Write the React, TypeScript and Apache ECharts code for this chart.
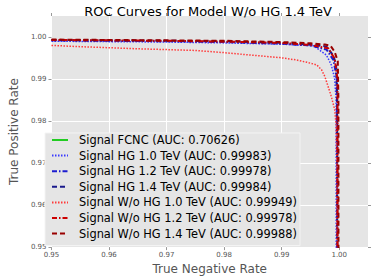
import React, { useEffect, useRef } from "react";
import * as echarts from "echarts";

const tickValues = [0.95, 0.96, 0.97, 0.98, 0.99, 1.0];
const seriesNames = [
  "Signal FCNC (AUC: 0.70626)",
  "Signal HG 1.0 TeV (AUC: 0.99983)",
  "Signal HG 1.2 TeV (AUC: 0.99978)",
  "Signal HG 1.4 TeV (AUC: 0.99984)",
  "Signal W/o HG 1.0 TeV (AUC: 0.99949)",
  "Signal W/o HG 1.2 TeV (AUC: 0.99978)",
  "Signal W/o HG 1.4 TeV (AUC: 0.99988)",
];

// FCNC curve lies entirely below the visible window
const fcncX: number[] = [];
const fcncY: number[] = [];

const hg10X = [0.95, 0.96, 0.97, 0.98, 0.99, 0.99555, 0.99778, 0.99862, 0.9992, 0.99946, 0.9995];
const hg10Y = [0.999, 0.9989, 0.9988, 0.9986, 0.9983, 0.9979, 0.9957, 0.99336, 0.9902, 0.985, 0.9];

const hg12X = [0.95, 0.96, 0.97, 0.98, 0.99, 0.995, 0.9978, 0.999, 0.9996, 0.99965];
const hg12Y = [0.9992, 0.9991, 0.999, 0.9988, 0.9984, 0.998, 0.997, 0.9945, 0.99, 0.9];

const hg14X = [0.95, 0.96, 0.97, 0.98, 0.99, 0.995, 0.997, 0.99778, 0.99891, 0.99945, 0.99963, 0.99965];
const hg14Y = [0.9993, 0.9992, 0.9991, 0.999, 0.9986, 0.9982, 0.9979, 0.9977, 0.9957, 0.9935, 0.985, 0.9];

const wo10X = [0.95, 0.955, 0.96, 0.965, 0.97, 0.975, 0.98, 0.985, 0.9897, 0.9925, 0.9944, 0.9961, 0.99694, 0.9975, 0.99807, 0.99862, 0.9992, 0.99946, 0.9996, 0.99965];
const wo10Y = [0.998, 0.9977, 0.99745, 0.9972, 0.997, 0.9968, 0.99628, 0.99565, 0.9951, 0.99455, 0.99398, 0.99336, 0.99218, 0.9906, 0.98822, 0.98585, 0.9828, 0.979, 0.97, 0.9];

const wo12X = [0.95, 0.96, 0.97, 0.98, 0.99, 0.995, 0.9981, 0.9992, 0.9997, 0.99975];
const wo12Y = [0.9993, 0.9992, 0.9991, 0.9989, 0.9986, 0.9981, 0.9973, 0.9949, 0.99, 0.9];

const wo14X = [0.95, 0.96, 0.97, 0.98, 0.99, 0.995, 0.9975, 0.9985, 0.9992, 0.99975, 0.99986, 0.99988];
const wo14Y = [0.9994, 0.9993, 0.9992, 0.9991, 0.9988, 0.9985, 0.9982, 0.9979, 0.9965, 0.9942, 0.985, 0.9];

const zip = (xs: number[], ys: number[]) => xs.map((x, i) => [x, ys[i]]);

const styles = [
  { color: "#22cc22", width: 3, type: "solid" as any },
  { color: "#3a3aff", width: 1.5, type: [1.5, 1.5] },
  { color: "#1c1cd0", width: 2, type: [5, 2, 1.5, 2] },
  { color: "#1a1a8c", width: 2, type: [5, 3] },
  { color: "#ff3a3a", width: 1.5, type: [1.5, 1.5] },
  { color: "#cc0000", width: 2, type: [5, 2, 1.5, 2] },
  { color: "#990000", width: 2, type: [5, 3] },
];

const datasets = [
  zip(fcncX, fcncY),
  zip(hg10X, hg10Y),
  zip(hg12X, hg12Y),
  zip(hg14X, hg14Y),
  zip(wo10X, wo10Y),
  zip(wo12X, wo12Y),
  zip(wo14X, wo14Y),
];

export default function App() {
  const ref = useRef<HTMLDivElement>(null);
  useEffect(() => {
    if (!ref.current) return;
    const chart = echarts.init(ref.current, undefined, { renderer: "svg" });
    const font = "DejaVu Sans";
    const baseAxis = {
      type: "value",
      min: 0.95,
      max: 1.005,
      interval: 0.01,
      axisLine: { show: false },
    };
    chart.setOption({
      animation: false,
      textStyle: { fontFamily: font },
      title: {
        text: "ROC Curves for Model W/o HG 1.4 TeV",
        left: 203,
        textAlign: "center",
        top: 0,
        textStyle: { fontSize: 13, fontWeight: "normal", color: "#000", fontFamily: font },
      },
      grid: { left: 39, right: 6, top: 16, bottom: 32, show: true, backgroundColor: "#e5e5e5", borderWidth: 0 },
      legend: {
        orient: "vertical",
        left: 45,
        top: 133,
        padding: [0, 3, 5, 6],
        backgroundColor: "#e5e5e5",
        borderColor: "#f4f4f4",
        borderWidth: 1,
        itemWidth: 16,
        itemHeight: 10,
        itemGap: 1.6,
        itemStyle: { opacity: 0 },
        data: seriesNames,
        textStyle: { fontSize: 11.4, lineHeight: 14, color: "#000", fontFamily: font, padding: [0, 0, 0, 6] },
      },
      xAxis: [
        {
          ...baseAxis,
          position: "bottom",
          name: "True Negative Rate",
          nameLocation: "middle",
          nameGap: 13,
          nameTextStyle: { fontSize: 12, color: "#555", fontFamily: font },
          axisTick: { show: true, length: 3, lineStyle: { color: "#999" }, customValues: tickValues },
          axisLabel: { fontSize: 7, color: "#555", margin: 4, customValues: tickValues, formatter: (v: number) => v.toFixed(2) },
          splitLine: { show: true, showMaxLine: false, lineStyle: { color: "#ffffff", width: 1 } },
        },
        {
          ...baseAxis,
          position: "top",
          axisTick: { show: true, length: 3, lineStyle: { color: "#999" }, customValues: tickValues },
          axisLabel: { show: false },
          splitLine: { show: false },
        },
      ],
      yAxis: [
        {
          ...baseAxis,
          position: "left",
          name: "True Positive Rate",
          nameLocation: "middle",
          nameGap: 19,
          nameTextStyle: { fontSize: 12, color: "#555", fontFamily: font },
          axisTick: { show: true, length: 3, lineStyle: { color: "#999" }, customValues: tickValues },
          axisLabel: { fontSize: 7, color: "#555", margin: 5, customValues: tickValues, formatter: (v: number) => v.toFixed(2) },
          splitLine: { show: true, showMaxLine: false, lineStyle: { color: "#ffffff", width: 1 } },
        },
        {
          ...baseAxis,
          position: "right",
          axisTick: { show: true, length: 3, lineStyle: { color: "#999" }, customValues: tickValues },
          axisLabel: { show: false },
          splitLine: { show: false },
        },
      ],
      series: seriesNames.map((name, i) => ({
        name,
        type: "line",
        data: datasets[i],
        showSymbol: false,
        symbol: "none",
        clip: true,
        color: styles[i].color,
        lineStyle: { color: styles[i].color, width: styles[i].width, type: styles[i].type },
        z: 2 + i,
      })),
    });
    return () => chart.dispose();
  }, []);
  return <div ref={ref} style={{ width: 374, height: 280, position: "absolute", left: 0, top: 0 }} />;
}
